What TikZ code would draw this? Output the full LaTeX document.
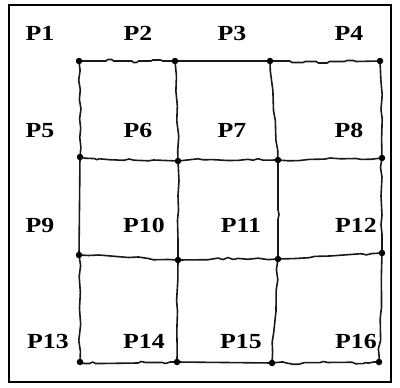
\documentclass[tikz,border=0pt]{standalone}
\usepackage{fontspec}
\setmainfont{Liberation Serif}
\usetikzlibrary{calc}
\newcommand\wobh[3]{\draw[gridline] (#1) \foreach \t/\d in {#3}{ -- ($(#1)!\t!(#2)+(0,\d)$)} -- (#2);}
\newcommand\wobv[3]{\draw[gridline] (#1) \foreach \t/\d in {#3}{ -- ($(#1)!\t!(#2)+(\d,0)$)} -- (#2);}
\newcommand\lbltxt[1]{\scalebox{1.2}[1]{#1}}
\begin{document}
\begin{tikzpicture}[x=1pt,y=-1pt,
  gridline/.style={line width=1.6pt, draw=black!90, line join=round},
  dot/.style={circle, fill=black, inner sep=0pt, minimum size=6.5pt},
  lab/.style={font=\bfseries\fontsize{21.5}{21.5}\selectfont, inner sep=0pt, anchor=base}]
\useasboundingbox (0,0) rectangle (400,388);
\draw[line width=1.1pt] (9,5) rectangle (391,382);
% grid points
\coordinate (p11) at (79,61);  \coordinate (p12) at (175,61);  \coordinate (p13) at (270,61);  \coordinate (p14) at (380,61);
\coordinate (p21) at (80,157); \coordinate (p22) at (178,161); \coordinate (p23) at (278,160); \coordinate (p24) at (382,158);
\coordinate (p31) at (79,255); \coordinate (p32) at (178,260); \coordinate (p33) at (278,259); \coordinate (p34) at (382,253);
\coordinate (p41) at (80,362); \coordinate (p42) at (177,362); \coordinate (p43) at (272,363); \coordinate (p44) at (379,362);
% horizontal lines
\wobh{p11}{p12}{0.28/0,0.3/-1.5,0.34/-1.5,0.36/0,0.55/0,0.57/1.5,0.6/1.5,0.62/0,0.75/0,0.77/-1,0.85/-1,0.87/0}
\draw[gridline] (p12) -- (p13);
\wobh{p13}{p14}{0.18/0,0.2/1.5,0.3/1.5,0.32/0.5,0.42/0.5,0.44/2,0.52/2,0.54/0.5,0.68/0.5,0.7/-0.5,0.76/-0.5,0.78/0.5}
\wobh{p21}{p22}{0.05/1,0.15/1,0.17/2,0.2/1,0.3/1.5,0.45/1.5,0.5/0,0.55/1,0.7/1,0.75/0,0.85/0}
\wobh{p22}{p23}{0.1/-1,0.2/-2,0.25/-1,0.35/-1,0.5/0,0.6/0,0.7/-1,0.75/0,0.8/-1.5,0.85/0}
\wobh{p23}{p24}{0.1/1,0.2/1,0.3/0,0.45/0,0.5/-1,0.6/0,0.75/0,0.8/1,0.9/1}
\wobh{p31}{p32}{0.1/0,0.2/-1,0.5/0,0.6/-1,0.7/0,0.75/1,0.9/0}
\wobh{p32}{p33}{0.3/0,0.4/-1.5,0.45/0,0.5/-2,0.55/0,0.6/-1,0.7/0,0.8/-1,0.9/0.5}
\wobh{p33}{p34}{0.15/0.5,0.3/0.5,0.35/-0.5,0.5/0,0.8/-0.5,0.85/1,0.9/0}
\wobh{p41}{p42}{0.04/1.5,0.1/1.5,0.13/0,0.16/1.5,0.22/1.5,0.6/1,0.63/-0.5,0.68/0.5,0.85/0.5,0.88/1.5,0.93/0}
\draw[gridline] (p42) -- (p43);
\wobh{p43}{p44}{0.1/-1,0.13/0,0.2/1.5,0.25/1.5,0.3/0,0.45/0,0.48/-1,0.52/0,0.75/0,0.78/1.5,0.85/1.5,0.87/0.5,0.9/1,0.95/0}
% vertical lines
\wobv{p11}{p21}{0.1/1,0.2/-0.5,0.3/1,0.4/0,0.5/1.5,0.6/0,0.7/1,0.8/0,0.9/1}
\draw[gridline] (p21) -- (p31);
\wobv{p31}{p41}{0.1/1.5,0.2/0,0.35/1,0.5/0,0.65/1,0.8/-1,0.9/0.5}
\wobv{p12}{p22}{0.15/1,0.3/0,0.45/1,0.6/0,0.75/1.5,0.9/0}
\wobv{p22}{p32}{0.2/1,0.35/0,0.5/0.5,0.6/-0.5,0.8/0}
\wobv{p32}{p42}{0.2/0,0.4/-1,0.5/0,0.7/-0.5,0.85/0}
\wobv{p13}{p23}{0.1/-0.5,0.3/0.5,0.5/-0.5,0.6/0.5,0.8/-0.5,0.9/0.5}
\wobv{p23}{p33}{0.5/0,0.55/1,0.6/0}
\wobv{p33}{p43}{0.1/-1,0.2/1,0.3/0,0.5/1,0.7/0,0.8/-1,0.9/0}
\wobv{p14}{p24}{0.2/0.5,0.35/1.5,0.5/0,0.6/1,0.8/0}
\wobv{p24}{p34}{0.1/-1.5,0.2/0,0.4/-1,0.6/0,0.7/-1,0.8/0}
\wobv{p34}{p44}{0.2/0,0.5/1,0.6/0,0.8/1,0.88/-1,0.95/0}
% dots
\foreach \r in {1,2,3,4}{\foreach \c in {1,2,3,4}{\node[dot] (d\r\c) at (p\r\c) {};}}
% labels (anchored on baseline)
\node[lab] (l1) at (40,40) {\lbltxt{P1}};
\node[lab] (l2) at (138,40) {\lbltxt{P2}};
\node[lab] (l3) at (232,40) {\lbltxt{P3}};
\node[lab] (l4) at (349,40) {\lbltxt{P4}};
\node[lab] (l5) at (40,137) {\lbltxt{P5}};
\node[lab] (l6) at (138,137) {\lbltxt{P6}};
\node[lab] (l7) at (232,137) {\lbltxt{P7}};
\node[lab] (l8) at (349,137) {\lbltxt{P8}};
\node[lab] (l9) at (40,232) {\lbltxt{P9}};
\node[lab] (l10) at (144,232) {\lbltxt{P10}};
\node[lab] (l11) at (241,232) {\lbltxt{P11}};
\node[lab] (l12) at (356,232) {\lbltxt{P12}};
\node[lab] (l13) at (48,348) {\lbltxt{P13}};
\node[lab] (l14) at (144,348) {\lbltxt{P14}};
\node[lab] (l15) at (241,348) {\lbltxt{P15}};
\node[lab] (l16) at (356,348) {\lbltxt{P16}};
\end{tikzpicture}
\end{document}
